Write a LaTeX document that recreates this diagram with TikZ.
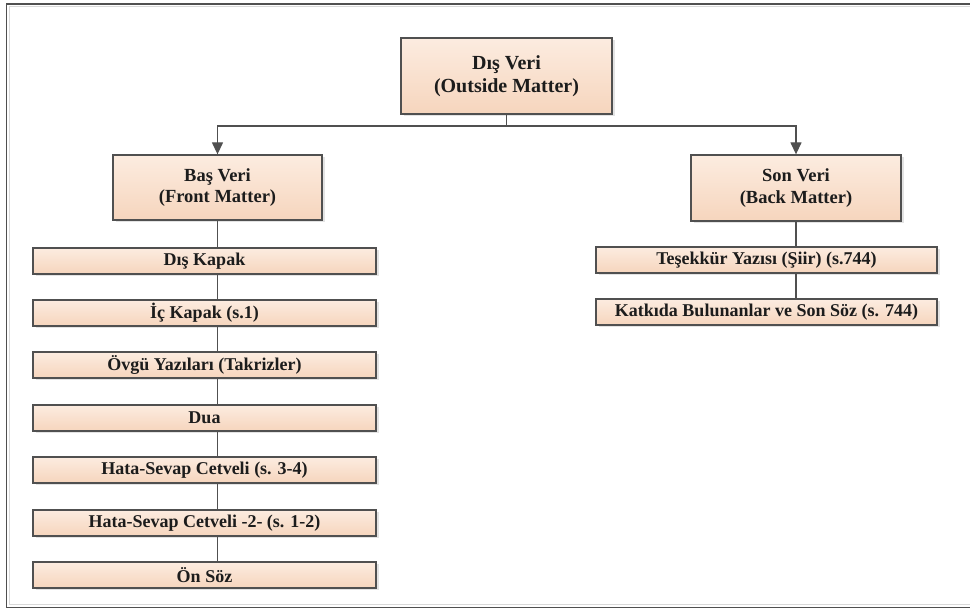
\documentclass[tikz,border=0pt]{standalone}
\usepackage{fontspec}
\setmainfont{Liberation Serif}
\usetikzlibrary{arrows.meta,shadows}
\definecolor{boxtop}{RGB}{252,236,224}
\definecolor{boxbot}{RGB}{246,213,189}
\definecolor{edge}{RGB}{80,80,80}
\definecolor{ink}{RGB}{28,28,28}
\tikzset{
  box/.style={draw=edge, line width=1.3pt, top color=boxtop, bottom color=boxbot,
    text=ink, align=center, inner sep=0pt, font=\bfseries,
    drop shadow={shadow xshift=2.5pt, shadow yshift=-2.5pt, fill=black!18, opacity=0.6}},
  headbox/.style={box, minimum width=211pt, minimum height=76pt, font=\fontsize{20}{23}\selectfont\bfseries},
  midbox/.style={box, minimum width=209pt, minimum height=65pt, font=\fontsize{18.5}{21.5}\selectfont\bfseries},
  itembox/.style={box, minimum width=342pt, minimum height=26pt, font=\fontsize{18}{20}\selectfont\bfseries},
  link/.style={draw=edge, line width=1.3pt},
  arrowlink/.style={link, -{Triangle[length=12pt,width=11pt]}},
}
\begin{document}
\begin{tikzpicture}[x=1pt,y=1pt]
\useasboundingbox (0,0) rectangle (970,610);
% outer frame
\draw[black!15, line width=1pt] (980,603.5) -- (9,603.5) -- (9,5.5) -- (980,5.5);
\draw[edge, line width=1.4pt] (980,606) -- (6.5,606) -- (6.5,2.5) -- (980,2.5);

% boxes
\node[headbox] (top) at (506.5,534) {Dış Veri\\(Outside Matter)};
\node[midbox] (front) at (217.5,422.5) {Baş Veri\\(Front Matter)};
\node[midbox, minimum width=210pt, minimum height=66pt] (back) at (796,422) {Son Veri\\(Back Matter)};

\node[itembox, minimum width=343pt] (f1) at (204.5,349) {Dış Kapak};
\node[itembox, minimum width=343pt] (f2) at (204.5,297) {İç Kapak (s.1)};
\node[itembox, minimum width=343pt] (f3) at (204.5,245) {Övgü Yazıları (Takrizler)};
\node[itembox, minimum width=343pt] (f4) at (204.5,192) {Dua};
\node[itembox, minimum width=343pt] (f5) at (204.5,140) {Hata-Sevap Cetveli (s. 3-4)};
\node[itembox, minimum width=343pt] (f6) at (204.5,87) {Hata-Sevap Cetveli -2- (s. 1-2)};
\node[itembox, minimum width=343pt] (f7) at (204.5,35) {Ön Söz};

\node[itembox, minimum width=341pt] (b1) at (766.5,350) {Teşekkür Yazısı (Şiir) (s.744)};
\node[itembox, minimum width=341pt] (b2) at (766.5,298) {Katkıda Bulunanlar ve Son Söz (s. 744)};

% branch from the top box
\coordinate (split) at (506.5,484);
\draw[link] (top.south) -- (split);
\draw[arrowlink] (split) -| (front.north);
\draw[arrowlink] (split) -| (back.north);

% front matter chain
\draw[link] (front.south) -- (front.south |- f1.north);
\foreach \a/\b in {f1/f2,f2/f3,f3/f4,f4/f5,f5/f6,f6/f7}
  \draw[link] (front.south |- \a.south) -- (front.south |- \b.north);

% back matter chain
\draw[link] (back.south) -- (back.south |- b1.north);
\draw[link] (back.south |- b1.south) -- (back.south |- b2.north);
\end{tikzpicture}
\end{document}
